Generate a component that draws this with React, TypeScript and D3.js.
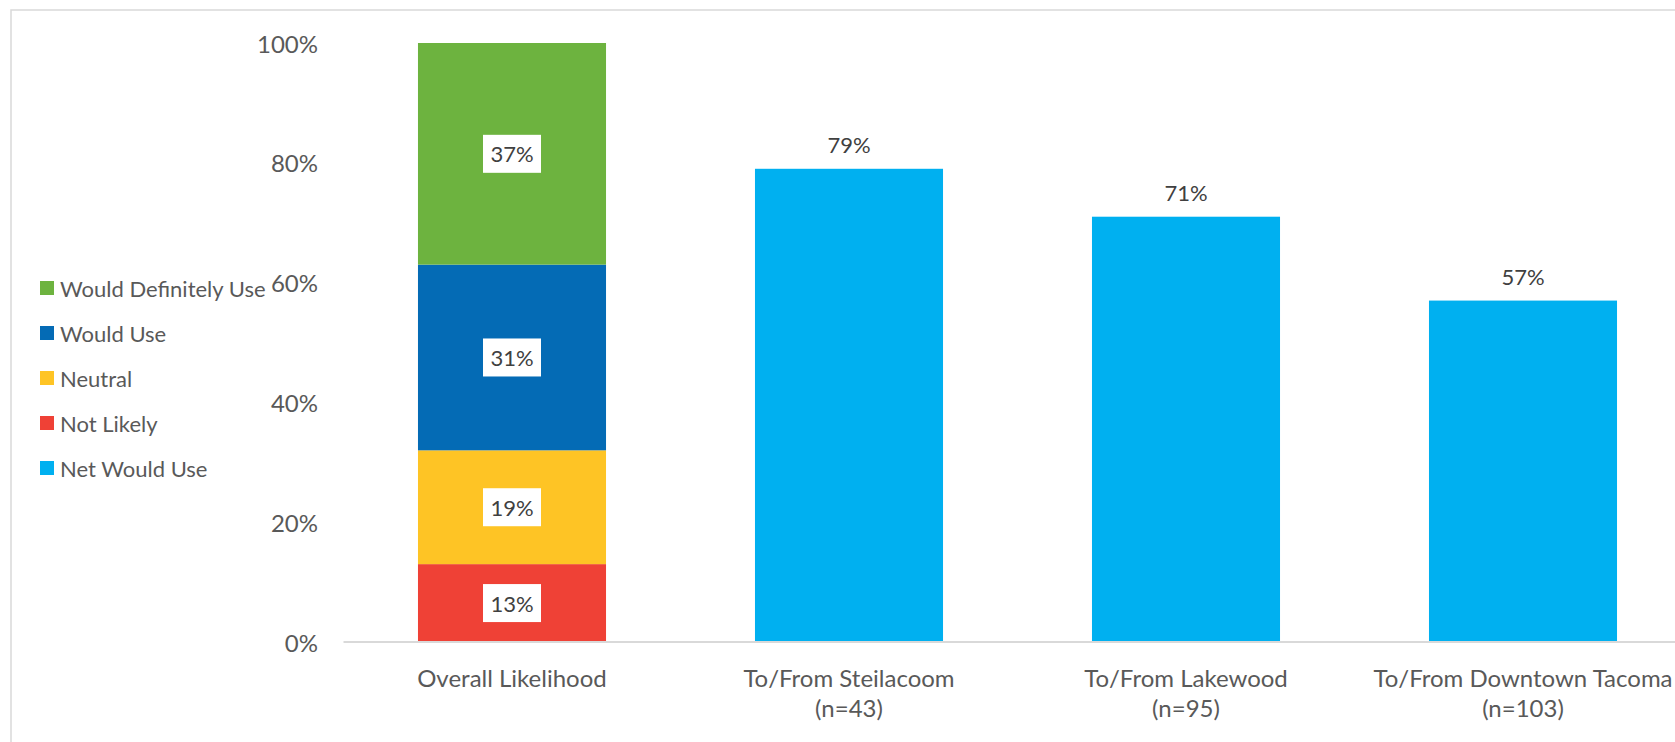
import React from "react";
import * as d3 from "d3";

const categories = ["Overall Likelihood", "To/From Steilacoom", "To/From Lakewood", "To/From Downtown Tacoma"];
const categorySub = ["", "(n=43)", "(n=95)", "(n=103)"];
const stackSeries = ["Not Likely", "Neutral", "Would Use", "Would Definitely Use"];
const stackValues = [13, 19, 31, 37];
const netValues = [79, 71, 57];
const legendItems = ["Would Definitely Use", "Would Use", "Neutral", "Not Likely", "Net Would Use"];
const yTicks = [0, 20, 40, 60, 80, 100];

const colors: Record<string, string> = {
  "Would Definitely Use": "#6DB33F",
  "Would Use": "#046BB5",
  "Neutral": "#FEC425",
  "Not Likely": "#EF4136",
  "Net Would Use": "#00B0F0",
};

const FONT = "Lato, 'Open Sans', sans-serif";

export default function App() {
  const W = 1675, H = 742;
  const y = d3.scaleLinear().domain([0, 100]).range([642, 43]);
  const x = d3.scaleBand<string>().domain(categories).range([343.5, 1691.5]).paddingInner(0.442).paddingOuter(0.221);
  const bw = x.bandwidth();

  let acc = 0;
  const stacks = stackValues.map((v, i) => {
    const s = { name: stackSeries[i], v, y0: acc, y1: acc + v };
    acc += v;
    return s;
  });

  return (
    <svg width={W} height={H} style={{ position: "absolute", left: 0, top: 0, background: "#fff" }} fontFamily={FONT}>
      <rect x={0} y={0} width={W} height={H} fill="#fff" />
      <rect x={11} y={10} width={W + 50} height={H + 50} fill="none" stroke="#D9D9D9" strokeWidth={1.5} />
      {yTicks.map((t) => (
        <text key={t} x={318} y={y(t)} textAnchor="end" dominantBaseline="central" fontSize={24} fill="#595959">
          {t}%
        </text>
      ))}
      {stacks.map((s) => {
        const x0 = x(categories[0])!;
        const yc = (y(s.y0) + y(s.y1)) / 2;
        return (
          <g key={s.name}>
            <rect x={x0} y={y(s.y1)} width={bw} height={y(s.y0) - y(s.y1)} fill={colors[s.name]} />
            <rect x={x0 + bw / 2 - 29} y={yc - 19} width={58} height={38} fill="#fff" />
            <text x={x0 + bw / 2} y={yc} textAnchor="middle" dominantBaseline="central" fontSize={22} fill="#404040">
              {s.v}%
            </text>
          </g>
        );
      })}
      {netValues.map((v, i) => {
        const c = categories[i + 1];
        const x0 = x(c)!;
        return (
          <g key={c}>
            <rect x={x0} y={y(v)} width={bw} height={y(0) - y(v)} fill={colors["Net Would Use"]} />
            <text x={x0 + bw / 2} y={y(v) - 24} textAnchor="middle" dominantBaseline="central" fontSize={22} fill="#404040">
              {v}%
            </text>
          </g>
        );
      })}
      <line x1={343.5} x2={1700} y1={y(0)} y2={y(0)} stroke="#D9D9D9" strokeWidth={2} />
      {categories.map((c, i) => (
        <g key={c}>
          <text x={x(c)! + bw / 2} y={677} textAnchor="middle" dominantBaseline="central" fontSize={24} fill="#595959">
            {c}
          </text>
          {categorySub[i] && (
            <text x={x(c)! + bw / 2} y={707} textAnchor="middle" dominantBaseline="central" fontSize={24} fill="#595959">
              {categorySub[i]}
            </text>
          )}
        </g>
      ))}
      {legendItems.map((l, i) => {
        const yc = 288 + i * 45;
        return (
          <g key={l}>
            <rect x={40} y={yc - 7} width={14} height={14} fill={colors[l]} />
            <text x={60} y={yc} dominantBaseline="central" fontSize={22} fill="#595959">
              {l}
            </text>
          </g>
        );
      })}
    </svg>
  );
}
